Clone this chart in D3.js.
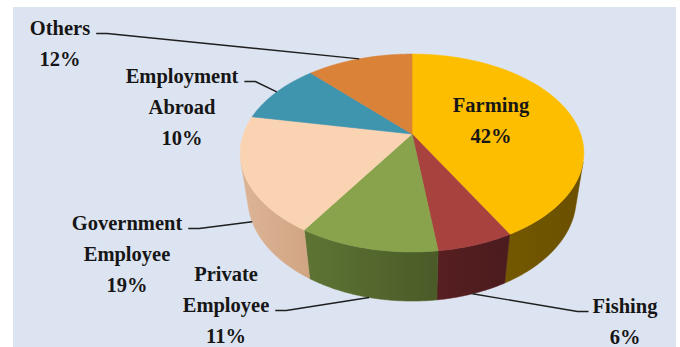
<!DOCTYPE html>
<html>
<head>
<meta charset="utf-8">
<script src="https://cdn.jsdelivr.net/npm/d3@7/dist/d3.min.js"></script>
<style>
  html, body { margin: 0; padding: 0; background: #ffffff; }
  svg { display: block; }
</style>
</head>
<body>
<svg id="chart" width="680" height="347"></svg>
<script>
// Household main income source (share of households, %)
const categories = ["Farming", "Fishing", "Private Employee", "Government Employee", "Employment Abroad", "Others"];
const shares = [42, 6, 11, 19, 10, 12];
// label text lines (the percentage is appended from shares)
const labelNames = [["Farming"], ["Fishing"], ["Private", "Employee"], ["Government", "Employee"], ["Employment", "Abroad"], ["Others"]];

// palette: top face, and wall shading (left / right)
const topColors  = ["#fdbe00", "#a8423f", "#88a34b", "#fad3b3", "#3f94ae", "#d98238"];
const wallLight  = ["#745800", "#571f22", "#5e7434", "#dcb495", "#2c6a7d", "#9c5c27"];
const wallDark   = ["#6a5000", "#4b1b1d", "#4a5b28", "#d1a584", "#255a6a", "#8a5122"];

// label placement: centre x, first baseline, which line carries the leader, leader side
const labelLayout = [
  { x: 491, y: 112, lead: null },
  { x: 625, y: 313, lead: 0, side: "left" },
  { x: 226, y: 281, lead: 1, side: "right" },
  { x: 127, y: 230, lead: 0, side: "right" },
  { x: 182, y: 83,  lead: 0, side: "right" },
  { x: 60,  y: 35,  lead: 0, side: "right" }
];
const lineGap = 31;

const svg = d3.select("#chart");
const W = 680, H = 347;

// chart area background
svg.append("rect").attr("x", 13).attr("y", 7).attr("width", 663).attr("height", H - 7)
  .attr("fill", "#dde4f1");

// 3D perspective projection of a unit pie disc
const cx = 412, cy = 134;          // screen position of the disc centre
const focal = 725, dist = 4.30;    // focal length (px) and camera distance (radii)
const S = 0.565, C = Math.sqrt(1 - S * S); // sin / cos of elevation
const thick = 0.339;               // disc thickness (radii)

function project(theta, r, h) {
  const x = r * Math.sin(theta), z = -r * Math.cos(theta), y = h;
  const v = z * S - y * C;
  const d = dist - (z * C + y * S);
  return [cx + focal * x / d, cy + focal * v / d];
}

// visible band of the outer wall (normal facing the camera)
const cosLim = -1 / (dist * C);
const visMin = Math.acos(cosLim), visMax = 2 * Math.PI - Math.acos(cosLim);

const arcs = d3.pie().sort(null).value(d => d)(shares);
const line = d3.line().curve(d3.curveLinearClosed);

function arcPoints(a0, a1, r, h) {
  const n = Math.max(2, Math.ceil((a1 - a0) / (Math.PI / 360)));
  return d3.range(n + 1).map(i => project(a0 + (a1 - a0) * i / n, r, h));
}

const defs = svg.append("defs");

// outer walls
const walls = svg.append("g");
arcs.forEach((a, i) => {
  const a0 = Math.max(a.startAngle, visMin), a1 = Math.min(a.endAngle, visMax);
  if (a1 <= a0) return;
  const top = arcPoints(a0, a1, 1, 0);
  const bottom = arcPoints(a0, a1, 1, -thick).reverse();
  const pts = top.concat(bottom);
  const xs = pts.map(p => p[0]);
  const gid = "wall" + i;
  const g = defs.append("linearGradient").attr("id", gid)
    .attr("gradientUnits", "userSpaceOnUse")
    .attr("x1", d3.min(xs)).attr("x2", d3.max(xs)).attr("y1", 0).attr("y2", 0);
  g.append("stop").attr("offset", 0).attr("stop-color", wallLight[i]);
  g.append("stop").attr("offset", 1).attr("stop-color", wallDark[i]);
  walls.append("path").attr("d", line(pts))
    .attr("fill", `url(#${gid})`).attr("stroke", `url(#${gid})`).attr("stroke-width", 0.6);
});

// top faces
const tops = svg.append("g");
arcs.forEach((a, i) => {
  const pts = [project(0, 0, 0)].concat(arcPoints(a.startAngle, a.endAngle, 1, 0));
  tops.append("path").attr("d", line(pts))
    .attr("fill", topColors[i]).attr("stroke", topColors[i]).attr("stroke-width", 0.6)
    .attr("stroke-linejoin", "round");
});

// labels and leader lines
const labels = svg.append("g")
  .attr("fill", "#161616")
  .attr("font-family", "'Times New Roman', Tinos, 'Liberation Serif', 'DejaVu Serif', serif")
  .attr("font-weight", "bold")
  .attr("font-size", "20.5px")
  .attr("text-anchor", "middle");
const leaders = svg.append("g").attr("fill", "none").attr("stroke", "#1e1e1e").attr("stroke-width", 1.4);

arcs.forEach((a, i) => {
  const L = labelLayout[i];
  const lines = labelNames[i].concat([shares[i] + "%"]);
  const texts = lines.map((s, k) =>
    labels.append("text").attr("x", L.x).attr("y", L.y + k * lineGap).text(s));
  if (L.lead === null) return;
  const w = texts[L.lead].node().getComputedTextLength();
  const ly = L.y + L.lead * lineGap - 1.5;
  const sx = L.side === "right" ? L.x + w / 2 + 6 : L.x - w / 2 - 4;
  const ex = L.side === "right" ? sx + 11 : sx - 11;
  const mid = (a.startAngle + a.endAngle) / 2;
  const onWall = mid > visMin && mid < visMax;
  const anchor = project(mid, 1, onWall ? -thick : 0);
  leaders.append("path").attr("d", d3.line()([[sx, ly], [ex, ly], anchor]));
});
</script>
</body>
</html>
